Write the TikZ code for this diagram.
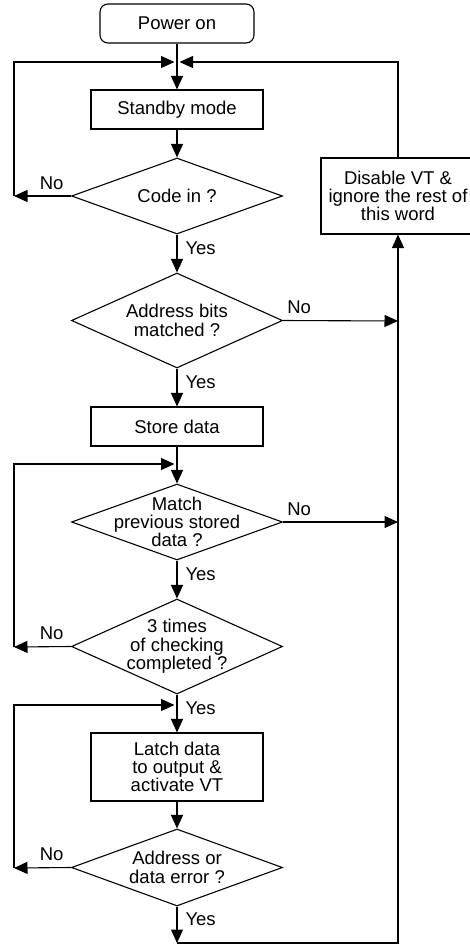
\documentclass[tikz,border=0pt]{standalone}
\usepackage{fontspec}
\setmainfont{Liberation Sans}
\usetikzlibrary{shapes.geometric, arrows.meta}

\tikzset{
  process/.style={draw, rectangle, line width=1.1pt, minimum width=172pt, minimum height=39pt, inner sep=0pt, align=center},
  terminal/.style={process, rounded corners=8pt, minimum width=154pt},
  decision/.style={draw, diamond, line width=1.1pt, minimum width=211pt, inner sep=0pt},
  flow/.style={line width=1.1pt, -{Triangle[length=13.5pt, width=12pt]}},
  merge/.style={flow, shorten >=2.5pt},
  yes/.style={right, pos=0.35, inner sep=0pt, xshift=8pt},
  no/.style={above, inner sep=0pt, yshift=6pt},
}

\begin{document}
\begin{tikzpicture}[x=1pt, y=-1pt, font=\fontsize{18.5}{18.3}\selectfont]

        \clip (0,0) rectangle (470,945);

        % main line
        \node[terminal] (power) at (177,23.5) {Power on};
        \node[process] (standby) at (177,109.5) {Standby mode};
        \node[decision, minimum height=76pt, label={[align=center]center:{Code in ?}}] (codein) at (177,196) {};
        \node[decision, minimum height=95pt, label={[align=center]center:{Address bits\\matched ?}}] (addr) at (177,320.5) {};
        \node[process] (store) at (177,426.5) {Store data};
        \node[decision, minimum height=76pt, label={[align=center]center:{Match\\previous stored\\data ?}}] (match) at (177,522) {};
        \node[decision, minimum height=95pt, label={[align=center]center:{3 times\\of checking\\completed ?}}] (times) at (177,646.5) {};
        \node[process, minimum height=68pt] (latch) at (177,767) {Latch data\\to output \&\\activate VT};
        \node[decision, minimum height=77pt, label={[align=center]center:{Address or\\data error ?}}] (err) at (177,867.5) {};

        % reject branch
        \node[process, minimum width=154pt, minimum height=76pt] (disable) at (398,196) {Disable VT \&\\ignore the rest of\\this word};

        \coordinate (j1) at (177,62);
        \coordinate (j2) at (177,464);
        \coordinate (j3) at (177,705);
        \coordinate (l1) at (14,196);
        \coordinate (l2) at (14,647);
        \coordinate (l3) at (14,868);
        \coordinate (r1) at (398,321);
        \coordinate (r2) at (398,522);
        \coordinate (bot) at (177,943);

        \draw[flow] (power) -- (standby);
        \draw[flow] (standby) -- (codein);
        \draw[flow] (codein.west) -- node[no, pos=0.34]{No} (l1);
        \draw[merge] (l1) |- (j1);
        \draw[merge] (disable) |- (j1);
        \draw[flow] (codein) -- node[yes]{Yes} (addr);
        \draw[flow] (addr.east) -- node[no, pos=0.14]{No} (r1);
        \draw[flow] (addr) -- node[yes]{Yes} (store);
        \draw[flow] (store) -- (match);
        \draw[flow] (match.east) -- node[no, pos=0.14]{No} (r2);
        \draw[flow] (match) -- node[yes]{Yes} (times);
        \draw[flow] (times.west) -- node[no, pos=0.34]{No} (l2);
        \draw[merge] (l2) |- (j2);
        \draw[flow] (times) -- node[yes]{Yes} (latch);
        \draw[flow] (latch) -- (err);
        \draw[flow] (err.west) -- node[no, pos=0.34]{No} (l3);
        \draw[merge] (l3) |- (j3);
        \draw[flow] (err) -- node[yes]{Yes} (bot);
        \draw[flow] (bot) -| (disable);

    \end{tikzpicture}
\end{document}
